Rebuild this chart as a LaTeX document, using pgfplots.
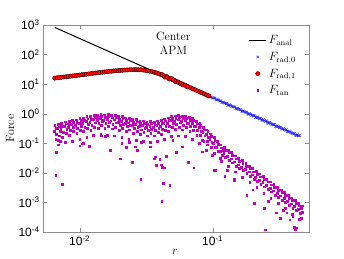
\documentclass[border=0pt]{standalone}
\usepackage{pgfplots}
\pgfplotsset{compat=1.18}
\usepackage{fontspec}
\newfontfamily\tickfont{Liberation Sans}
\definecolor{mag}{rgb}{0.75,0,0.75}
\definecolor{xblue}{rgb}{0.2,0.2,1}
\definecolor{framegray}{rgb}{0.55,0.55,0.55}
\begin{document}
\begin{tikzpicture}
\path (-43pt,-26pt) rectangle (301pt,232pt);
\begin{axis}[
  at={(0,0)}, anchor=south west,
  scale only axis, width=266pt, height=207pt,
  xmode=log, ymode=log, log basis x=10, log basis y=10,
  xmin=0.0053, xmax=0.53, ymin=1e-4, ymax=1e3,
  xtickten={-2,-1}, ytickten={-4,-3,-2,-1,0,1,2,3},
  xticklabel={\tickfont 10\textsuperscript{\pgfmathparse{int(round(\tick))}\pgfmathresult}},
  yticklabel={\tickfont 10\textsuperscript{\pgfmathparse{int(round(\tick))}\pgfmathresult}},
  ticklabel style={font=\fontsize{12}{14}\selectfont},
  axis line style={framegray}, tick style={framegray},
  tick align=inside, major tick length=4pt, minor tick length=2pt,
  xlabel={$r$}, ylabel={Force},
  label style={font=\fontsize{12}{14}\selectfont},
  xlabel style={at={(axis description cs:0.496,-0.095)}, anchor=center},
  ylabel style={at={(axis description cs:-0.124,0.5)}, anchor=center, rotate=0},
  legend style={draw=none, fill=none, at={(0.97,0.97)}, anchor=north east,
    font=\fontsize{12}{14}\selectfont, row sep=3pt},
  legend cell align=left,
]
\addlegendimage{black, line width=1pt}
\addlegendentry{$F_{\mathrm{anal}}$}
\addlegendimage{only marks, mark=x, mark size=1.8pt, xblue, line width=0.5pt}
\addlegendentry{$F_{\mathrm{rad,0}}$}
\addlegendimage{only marks, mark=*, mark size=2.2pt, draw=black, line width=0.3pt, fill=red}
\addlegendentry{$F_{\mathrm{rad,1}}$}
\addlegendimage{only marks, mark=square*, mark size=0.9pt, mag}
\addlegendentry{$F_{\mathrm{tan}}$}

% F_tan
\addplot[only marks, mark=square*, mark size=0.9pt, color=mag, forget plot] coordinates {
(0.0065,0.40)(0.0066,0.33)(0.0064,0.26)(0.0067,0.20)(0.0066,0.14)
(0.0069,0.45)(0.0070,0.38)(0.0068,0.32)(0.0071,0.25)(0.0070,0.18)(0.0069,0.09)
(0.0073,0.47)(0.0074,0.38)(0.0072,0.30)(0.0075,0.24)(0.0074,0.16)
(0.0078,0.54)(0.0079,0.46)(0.0077,0.38)(0.0080,0.30)(0.0079,0.22)(0.0078,0.11)
(0.0083,0.55)(0.0084,0.45)(0.0082,0.36)(0.0085,0.28)(0.0084,0.19)
(0.0088,0.62)(0.0089,0.53)(0.0087,0.43)(0.0090,0.34)(0.0089,0.25)(0.0088,0.12)
(0.0094,0.63)(0.0095,0.51)(0.0093,0.41)(0.0096,0.32)(0.0095,0.22)
(0.0100,0.70)(0.0102,0.60)(0.0099,0.49)(0.0103,0.39)(0.0101,0.28)(0.0100,0.14)
(0.0106,0.71)(0.0108,0.59)(0.0105,0.47)(0.0109,0.36)(0.0107,0.25)
(0.0113,0.80)(0.0115,0.68)(0.0112,0.56)(0.0116,0.44)(0.0114,0.32)(0.0113,0.16)
(0.0120,0.82)(0.0122,0.67)(0.0119,0.53)(0.0123,0.41)(0.0121,0.28)
(0.0128,0.91)(0.0130,0.77)(0.0127,0.64)(0.0131,0.50)(0.0129,0.36)(0.0127,0.18)
(0.0136,0.92)(0.0138,0.76)(0.0135,0.60)(0.0139,0.47)(0.0137,0.32)
(0.0144,1.00)(0.0146,0.85)(0.0143,0.70)(0.0148,0.55)(0.0145,0.40)(0.0144,0.20)
(0.0153,0.93)(0.0155,0.76)(0.0151,0.61)(0.0157,0.47)(0.0154,0.32)
(0.0163,0.95)(0.0165,0.81)(0.0161,0.67)(0.0167,0.52)(0.0164,0.38)(0.0162,0.19)
(0.0173,0.88)(0.0176,0.73)(0.0171,0.58)(0.0177,0.45)(0.0175,0.31)
(0.0184,0.90)(0.0187,0.77)(0.0182,0.63)(0.0189,0.50)(0.0186,0.36)(0.0183,0.18)
(0.0196,0.82)(0.0199,0.67)(0.0194,0.53)(0.0201,0.41)(0.0198,0.28)
(0.0208,0.82)(0.0211,0.70)(0.0206,0.57)(0.0213,0.45)(0.0210,0.33)(0.0207,0.16)
(0.0221,0.73)(0.0224,0.60)(0.0219,0.48)(0.0227,0.37)(0.0223,0.25)
(0.0235,0.72)(0.0239,0.61)(0.0233,0.50)(0.0241,0.40)(0.0237,0.29)(0.0234,0.14)
(0.0250,0.65)(0.0254,0.53)(0.0248,0.42)(0.0256,0.33)(0.0252,0.22)
(0.0266,0.64)(0.0270,0.54)(0.0263,0.45)(0.0273,0.35)(0.0269,0.26)(0.0265,0.13)
(0.0283,0.57)(0.0287,0.47)(0.0280,0.37)(0.0290,0.29)(0.0286,0.20)
(0.0300,0.58)(0.0305,0.49)(0.0297,0.41)(0.0308,0.32)(0.0303,0.23)(0.0299,0.12)
(0.0319,0.53)(0.0324,0.44)(0.0316,0.35)(0.0327,0.27)(0.0322,0.18)
(0.0339,0.55)(0.0344,0.47)(0.0336,0.39)(0.0347,0.30)(0.0342,0.22)(0.0338,0.11)
(0.0361,0.53)(0.0366,0.44)(0.0357,0.35)(0.0370,0.27)(0.0365,0.18)
(0.0383,0.58)(0.0389,0.49)(0.0379,0.41)(0.0393,0.32)(0.0387,0.23)(0.0381,0.12)
(0.0408,0.59)(0.0414,0.48)(0.0404,0.38)(0.0418,0.30)(0.0412,0.20)
(0.0433,0.68)(0.0439,0.58)(0.0429,0.48)(0.0444,0.37)(0.0437,0.27)(0.0431,0.14)
(0.0461,0.73)(0.0468,0.60)(0.0456,0.48)(0.0473,0.37)(0.0466,0.25)
(0.0490,0.85)(0.0497,0.72)(0.0485,0.60)(0.0502,0.47)(0.0495,0.34)(0.0488,0.17)
(0.0520,0.86)(0.0528,0.70)(0.0515,0.56)(0.0533,0.43)(0.0525,0.30)
(0.0553,0.90)(0.0561,0.77)(0.0547,0.63)(0.0567,0.50)(0.0559,0.36)(0.0551,0.18)
(0.0588,0.84)(0.0597,0.69)(0.0582,0.55)(0.0603,0.42)(0.0594,0.29)
(0.0625,0.85)(0.0634,0.72)(0.0619,0.60)(0.0641,0.47)(0.0631,0.34)(0.0622,0.17)
(0.0665,0.75)(0.0675,0.62)(0.0658,0.49)(0.0682,0.38)(0.0672,0.26)
(0.0706,0.70)(0.0717,0.60)(0.0699,0.49)(0.0724,0.39)(0.0713,0.28)(0.0703,0.14)
(0.0751,0.56)(0.0762,0.46)(0.0743,0.37)(0.0770,0.28)(0.0759,0.19)
(0.0798,0.48)(0.0810,0.41)(0.0790,0.34)(0.0818,0.26)(0.0806,0.19)(0.0794,0.10)
(0.0849,0.35)(0.0862,0.29)(0.0841,0.23)(0.0870,0.18)(0.0857,0.12)
(0.0902,0.29)(0.0916,0.25)(0.0893,0.20)(0.0925,0.16)(0.0911,0.12)(0.0898,0.058)
(0.0959,0.21)(0.0973,0.17)(0.0949,0.14)(0.0983,0.11)(0.0969,0.073)
(0.102,0.165)(0.1035,0.13)(0.101,0.10)(0.1045,0.074)(0.103,0.046)
(0.108,0.12)(0.1095,0.096)(0.107,0.074)(0.1105,0.054)
(0.115,0.089)(0.1165,0.071)(0.114,0.055)(0.1175,0.040)(0.116,0.025)
(0.122,0.073)(0.124,0.058)(0.121,0.045)(0.125,0.033)
(0.130,0.060)(0.132,0.048)(0.129,0.037)(0.133,0.027)(0.131,0.017)
(0.138,0.049)(0.140,0.039)(0.137,0.030)(0.141,0.022)
(0.147,0.038)(0.149,0.030)(0.146,0.024)(0.150,0.017)(0.148,0.011)
(0.156,0.031)(0.158,0.025)(0.155,0.019)(0.159,0.014)
(0.166,0.026)(0.168,0.021)(0.165,0.016)(0.169,0.012)(0.167,0.0073)
(0.177,0.021)(0.179,0.017)(0.176,0.013)(0.180,0.0095)
(0.188,0.017)(0.191,0.014)(0.187,0.011)(0.192,0.0077)(0.190,0.0048)
(0.200,0.014)(0.203,0.011)(0.198,0.0087)(0.204,0.0063)
(0.212,0.0114)(0.215,0.0091)(0.210,0.0071)(0.217,0.0051)(0.214,0.0032)
(0.226,0.0093)(0.229,0.0074)(0.224,0.0058)(0.230,0.0042)
(0.240,0.0076)(0.244,0.0061)(0.238,0.0047)(0.245,0.0034)(0.242,0.0021)
(0.255,0.0062)(0.259,0.0050)(0.253,0.0038)(0.261,0.0028)
(0.271,0.0050)(0.275,0.0040)(0.269,0.0031)(0.277,0.0023)(0.273,0.0014)
(0.288,0.0041)(0.292,0.0033)(0.286,0.0025)(0.294,0.0018)
(0.307,0.0033)(0.311,0.0026)(0.304,0.0020)(0.313,0.0015)(0.309,0.00092)
(0.326,0.0027)(0.331,0.0022)(0.323,0.0017)(0.333,0.0012)
(0.346,0.0022)(0.351,0.0018)(0.343,0.0014)(0.353,0.00099)(0.349,0.00062)
(0.368,0.0018)(0.373,0.0014)(0.365,0.0011)(0.376,0.00081)
(0.392,0.00145)(0.398,0.00116)(0.388,0.0009)(0.400,0.00065)(0.395,0.00041)
(0.416,0.0012)(0.422,0.00096)(0.412,0.00074)(0.425,0.00054)
(0.443,0.00096)(0.449,0.00077)(0.439,0.0006)(0.452,0.00043)(0.446,0.00027)
(0.470,0.00078)(0.465,0.00062)(0.468,0.00048)
(0.0067,0.05)(0.0066,0.0085)(0.0074,0.0042)(0.0100,0.083)(0.0105,0.097)(0.0118,0.08)
(0.0169,0.06)(0.0201,0.03)(0.0248,0.023)(0.0288,0.0063)(0.0363,0.03)(0.0377,0.0178)
(0.0409,0.0189)(0.0433,0.015)(0.0425,0.0044)(0.0414,0.0011)(0.0448,0.037)(0.0475,0.0038)
(0.0533,0.049)(0.0657,0.023)(0.072,0.015)(0.103,0.0125)(0.123,0.0075)(0.146,0.0063)
(0.20,0.0027)(0.207,0.00095)(0.245,0.00065)(0.248,0.00012)(0.32,0.0003)(0.34,0.00056)
(0.38,0.00026)(0.41,0.00015)(0.42,0.00012)(0.467,0.0003)
(0.0069,0.13)(0.0071,0.12)(0.0106,0.10)(0.0119,0.077)(0.0126,0.19)(0.0146,0.18)
(0.0155,0.17)(0.0207,0.10)(0.0223,0.075)(0.0236,0.11)(0.0246,0.024)(0.027,0.06)
(0.026,0.077)(0.029,0.11)(0.034,0.077)(0.037,0.035)(0.040,0.029)(0.042,0.016)
(0.066,0.024)(0.059,0.077)(0.050,0.13)(0.084,0.13)(0.091,0.09)(0.099,0.04)
(0.114,0.032)(0.12,0.06)(0.128,0.0125)(0.105,0.0125)(0.145,0.0058)(0.205,0.00095)
(0.30,0.00045)(0.084,0.052)(0.18,0.0018)(0.26,0.0011)(0.36,0.00045)(0.40,0.00034)
(0.425,0.00014)(0.46,0.0003)
};

% F_rad,0
\addplot[only marks, mark=x, mark size=1.8pt, xblue, line width=0.5pt, forget plot] coordinates {
(0.058,10.8)(0.060,9.43)(0.0621,9.08)(0.0643,8.98)(0.0666,7.50)(0.0689,7.52)
(0.0713,6.75)(0.0738,6.75)(0.0764,5.76)(0.0790,5.66)(0.0818,5.44)(0.0847,4.73)
(0.0876,4.56)(0.0907,4.51)(0.0939,3.77)(0.0972,3.78)(0.1006,3.39)(0.1041,3.39)
(0.1077,2.90)(0.1115,2.85)(0.1154,2.73)(0.1194,2.38)(0.1236,2.29)(0.1279,2.27)
(0.1324,1.90)(0.1370,1.90)(0.1418,1.71)(0.1468,1.71)(0.1519,1.46)(0.1572,1.43)
(0.1627,1.37)(0.1684,1.20)(0.1743,1.15)(0.1804,1.14)(0.1867,0.954)(0.1933,0.955)
(0.2000,0.858)(0.2070,0.858)(0.2143,0.732)(0.2218,0.719)(0.2295,0.691)(0.2376,0.601)
(0.2459,0.579)(0.2545,0.573)(0.2634,0.479)(0.2726,0.480)(0.2822,0.431)(0.2920,0.431)
(0.3023,0.368)(0.3128,0.361)(0.3238,0.347)(0.3351,0.302)(0.3468,0.291)(0.3590,0.288)
(0.3715,0.241)(0.3845,0.242)(0.3980,0.217)(0.4119,0.217)(0.4263,0.185)(0.4412,0.182)
(0.4500,0.180)
(0.059,9.55)(0.061,9.87)(0.0632,8.60)(0.0654,7.70)(0.0677,8.01)(0.0701,6.92)
(0.0725,6.85)(0.0751,5.91)(0.0777,6.03)(0.0803,5.37)(0.0832,4.81)(0.0861,4.96)
(0.0891,4.32)(0.0922,3.86)(0.0955,4.03)(0.0989,3.47)(0.1023,3.45)(0.1059,2.97)
(0.1095,3.04)(0.1134,2.70)(0.1174,2.41)(0.1214,2.49)(0.1257,2.17)(0.1301,1.95)
(0.1346,2.03)(0.1393,1.75)(0.1442,1.73)(0.1493,1.49)(0.1545,1.53)(0.1599,1.36)
(0.1655,1.22)(0.1713,1.25)(0.1773,1.09)(0.1835,0.978)(0.1899,1.02)(0.1966,0.879)
(0.2034,0.871)(0.2105,0.751)(0.2179,0.767)(0.2256,0.681)(0.2334,0.611)(0.2416,0.630)
(0.2501,0.549)(0.2588,0.491)(0.2679,0.511)(0.2772,0.441)(0.2870,0.437)(0.2970,0.377)
(0.3074,0.385)(0.3181,0.343)(0.3293,0.307)(0.3408,0.317)(0.3527,0.276)(0.3651,0.247)
(0.3778,0.257)(0.3910,0.222)(0.4048,0.220)(0.4189,0.190)(0.4335,0.194)
};

% F_rad,1
\addplot[only marks, mark=*, mark size=2.2pt, draw=black, line width=0.3pt, fill=red, forget plot] coordinates {
(0.0065,16.0)(0.00676,16.4)(0.00703,16.8)(0.00731,17.1)(0.0076,17.5)(0.0079,17.8)
(0.00822,18.2)(0.00855,18.6)(0.00889,19.0)(0.00925,19.4)(0.00962,19.9)(0.0100,20.3)
(0.0104,20.8)(0.0108,21.2)(0.0112,21.7)(0.0117,22.2)(0.0122,22.8)(0.0126,23.2)
(0.0132,23.8)(0.0137,24.3)(0.0142,24.8)(0.0148,25.3)(0.0154,25.9)(0.0160,26.3)
(0.0166,26.8)(0.0173,27.3)(0.0180,27.8)(0.0187,28.3)(0.0195,28.8)(0.0202,29.1)
(0.0210,29.5)(0.0219,30.0)(0.0228,30.3)(0.0237,30.6)(0.0246,30.8)(0.0256,31.0)
(0.0266,31.0)(0.0277,30.9)(0.0288,30.6)(0.0300,30.0)(0.0312,29.3)(0.0324,28.5)
(0.0337,27.5)(0.0351,26.4)(0.0365,25.2)(0.0379,23.9)(0.0395,22.3)(0.0410,20.8)
(0.0427,19.2)(0.0444,17.8)(0.0462,16.4)(0.0480,15.2)(0.0499,14.1)(0.0519,13.0)
(0.0540,12.0)(0.0562,11.1)(0.0584,10.3)(0.0608,9.47)(0.0632,8.76)(0.0657,8.11)
(0.0683,7.50)(0.0711,6.92)(0.0739,6.41)(0.0769,5.92)(0.0800,5.47)(0.0832,5.06)
(0.0865,4.68)(0.0900,4.32)(0.0936,4.00)
(0.0418,21.0)(0.0436,17.5)(0.0453,17.9)(0.0471,15.0)(0.0490,15.4)(0.0509,13.9)
(0.0530,12.0)(0.0551,11.8)(0.0573,10.4)(0.0596,9.5)(0.0620,9.3)(0.0645,8.1)
};

% F_anal
\addplot[black, line width=1pt, forget plot] coordinates {(0.0065,828) (0.45,0.173)};

\node[align=center, anchor=north, inner sep=0pt, font=\fontsize{12}{13.5}\selectfont]
  at (rel axis cs:0.49,0.965) {Center\\APM};
\end{axis}
\end{tikzpicture}
\end{document}
